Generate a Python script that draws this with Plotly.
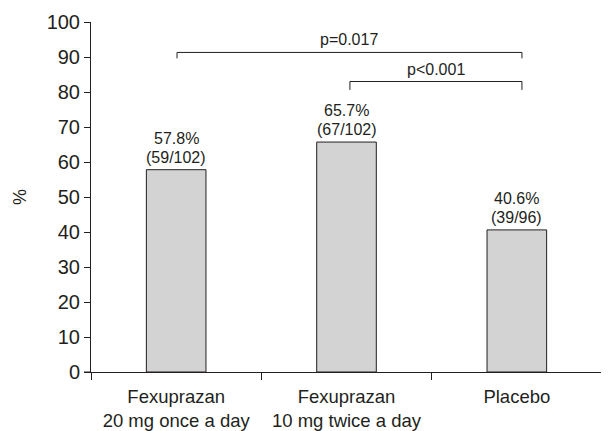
import plotly.graph_objects as go

categories = ["Fexuprazan<br>20 mg once a day", "Fexuprazan<br>10 mg twice a day", "Placebo"]
values = [57.8, 65.7, 40.6]
counts = ["(59/102)", "(67/102)", "(39/96)"]
y_ticks = [0, 10, 20, 30, 40, 50, 60, 70, 80, 90, 100]
comparisons = [  # (from index, to index, label, bracket height, end drop)
    (0, 2, "p=0.017", 91.3, 89.6),
    (1, 2, "p<0.001", 83.0, 80.6),
]

FONT = "Liberation Sans, Arial, sans-serif"
TXT = "#231f20"

fig = go.Figure()
fig.add_trace(go.Bar(
    x=categories, y=values,
    width=0.35,
    marker=dict(color="#d3d3d3", line=dict(color="#231f20", width=1)),
    hoverinfo="skip",
))

# bar value labels (percentage line above the count line)
for c, v, n in zip(categories, values, counts):
    fig.add_annotation(x=c, y=v, text=n, showarrow=False,
                       yanchor="bottom", yshift=2,
                       font=dict(family=FONT, size=16, color=TXT))
    fig.add_annotation(x=c, y=v, text=f"{v:.1f}%", showarrow=False,
                       yanchor="bottom", yshift=21,
                       font=dict(family=FONT, size=16, color=TXT))

# significance brackets
for i0, i1, lab, top, drop in comparisons:
    x0 = i0 + (0.02 if i0 > 0 else 0.005)
    x1 = i1 + 0.03
    fig.add_shape(type="path",
                  path=f"M {x0} {drop} L {x0} {top} L {x1} {top} L {x1} {drop}",
                  line=dict(color=TXT, width=1), xref="x", yref="y")
    fig.add_annotation(x=(x0 + x1) / 2, y=top, text=lab, showarrow=False,
                       yanchor="bottom", yshift=2,
                       font=dict(family=FONT, size=16, color=TXT))

# small left extension of the x-axis line
fig.add_shape(type="line", xref="paper", yref="y", x0=-7 / 511, x1=0, y0=0, y1=0,
              line=dict(color=TXT, width=1))

# page body has an 8px default margin, so the figure is sized to fit the window
fig.update_layout(
    width=601, height=423,
    margin=dict(l=83, r=7, t=14, b=59),
    plot_bgcolor="white", paper_bgcolor="white",
    showlegend=False,
    font=dict(family=FONT, color=TXT),
    xaxis=dict(
        type="category", range=[-0.5, 2.5], automargin=False,
        showline=True, linecolor=TXT, linewidth=1,
        ticks="outside", tickson="boundaries", ticklen=7, tickcolor=TXT,
        ticklabelstandoff=8,
        tickfont=dict(family=FONT, size=18.5, color=TXT),
        showgrid=False, zeroline=False,
    ),
    yaxis=dict(
        range=[0, 100], tickvals=y_ticks, automargin=False,
        showline=True, linecolor=TXT, linewidth=1,
        ticks="outside", ticklen=6, tickcolor=TXT,
        tickfont=dict(family=FONT, size=20, color=TXT),
        showgrid=False, zeroline=False,
        title=dict(text="%", font=dict(family=FONT, size=18, color=TXT), standoff=15),
    ),
)

fig.write_html("out.html")
